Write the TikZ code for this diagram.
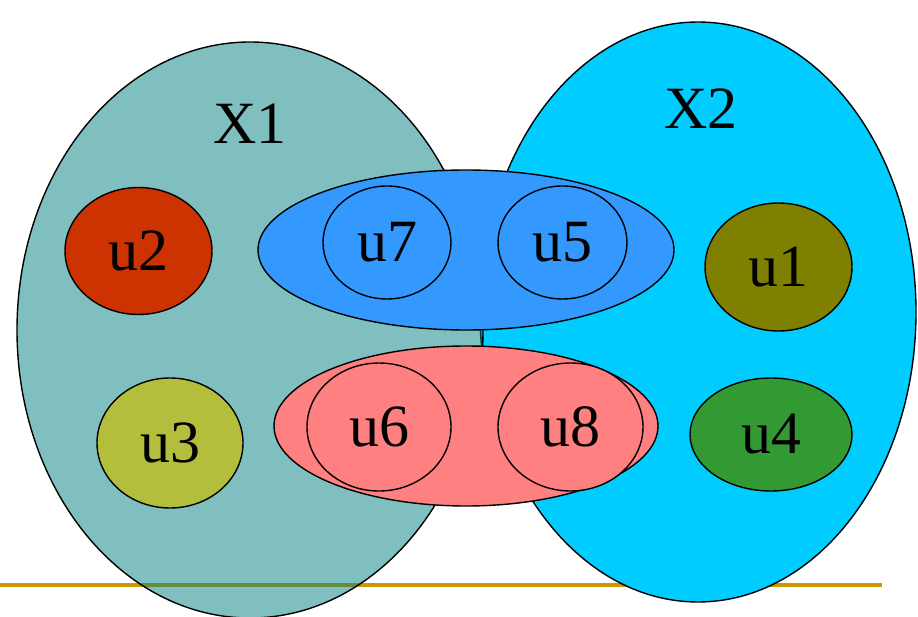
\documentclass[tikz,border=0pt]{standalone}
\usepackage{fontspec}
\setmainfont{Liberation Serif}
\usetikzlibrary{shapes.geometric}
\definecolor{cyanX}{RGB}{0,204,255}
\definecolor{tealX}{RGB}{0,128,128}
\definecolor{blueS}{RGB}{51,153,255}
\definecolor{pinkS}{RGB}{255,128,128}
\definecolor{redU}{RGB}{204,51,0}
\definecolor{limeU}{RGB}{179,191,60}
\definecolor{oliveU}{RGB}{128,128,0}
\definecolor{greenU}{RGB}{51,153,51}
\definecolor{lineY}{RGB}{204,153,0}
\tikzset{
  ell/.style={ellipse, draw=black, line width=1.4pt, inner sep=0pt, font=\fontsize{60}{62}\selectfont},
  lbl/.style={inner sep=0pt, font=\fontsize{60}{62}\selectfont},
}
\begin{document}
\begin{tikzpicture}[x=1pt,y=-1pt]
\useasboundingbox (0,0) rectangle (918,617);
% base line
\coordinate (la) at (0,585);
\coordinate (lb) at (882,585);
\draw[lineY, line width=3.5pt] (la) -- (lb);
% big sets
\node[ell, fill=cyanX, minimum width=436pt, minimum height=580pt] (X2set) at (698,312) {};
\node[ell, fill=tealX, fill opacity=0.5, minimum width=466pt, minimum height=576pt] (X1set) at (250,330) {};
\node[lbl] (X1) at (250,124) {X1};
\node[lbl] (X2) at (701,109) {X2};
% elements of X1
\node[ell, fill=redU, minimum width=147pt, minimum height=127pt] (u2) at (138.5,251) {u2};
\node[ell, fill=limeU, minimum width=146pt, minimum height=130pt] (u3) at (170,443) {u3};
% elements of X2
\node[ell, fill=oliveU, minimum width=147pt, minimum height=128pt] (u1) at (778.5,267) {u1};
\node[ell, fill=greenU, minimum width=162pt, minimum height=113pt] (u4) at (771,434.5) {u4};
% blue group
\node[ell, fill=blueS, minimum width=416pt, minimum height=160pt] (bg) at (466,250) {};
\node[ell, fill=blueS, minimum width=128pt, minimum height=113pt] (u7) at (387,242.5) {u7};
\node[ell, fill=blueS, minimum width=129pt, minimum height=113pt] (u5) at (562.5,242.5) {u5};
% pink group
\node[ell, fill=pinkS, minimum width=384pt, minimum height=160pt] (pg) at (466,426) {};
\node[ell, fill=pinkS, minimum width=144pt, minimum height=128pt] (u6) at (379,427) {u6};
\node[ell, fill=pinkS, minimum width=145pt, minimum height=128pt] (u8) at (570.5,427) {u8};
\end{tikzpicture}
\end{document}
